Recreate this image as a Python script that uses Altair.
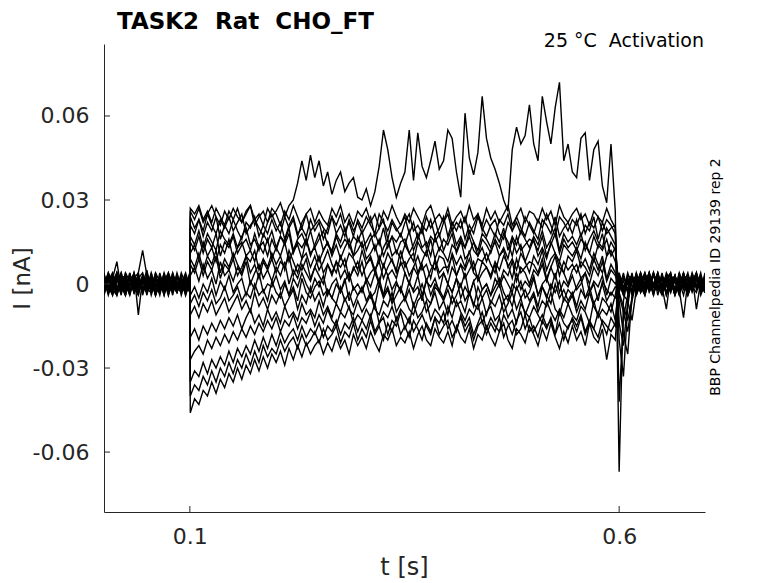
import altair as alt
import pandas as pd

# ---- sampling times (s) ----
t_pre = [round(0.005 * i, 4) for i in range(21)]              # 0.000 .. 0.100
t_pulse = [round(0.1005 + 0.005 * i, 4) for i in range(100)]  # 0.1005 .. 0.5955
t_post = [round(0.600 + 0.005 * i, 4) for i in range(21)]     # 0.600 .. 0.700
times = t_pre + t_pulse + t_post

# ---- currents, in pA (pre | pulse | post) ----
trace_B = [1,-3,4,-2,0,3,-4,2,-1,3,-2,1,-4,3,0,-2,4,-1,-3,2,0] + [
    26,23,27,22,25,28,24,21,26,23,
    27,24,22,26,28,23,25,21,27,24,
    26,29,24,28,30,36,44,37,46,38,
    44,35,40,32,37,40,33,36,38,31,
    30,34,28,33,42,55,48,38,31,36,
    40,55,37,54,42,38,44,51,41,44,
    55,52,40,31,61,45,39,47,67,52,
    45,41,36,30,26,48,56,50,53,64,
    50,44,67,58,50,63,72,44,50,40,
    38,52,54,37,48,51,35,29,50,26] + [
    -67,-6,2,-3,4,-1,3,-2,0,4,-3,1,-2,3,-4,2,0,-1,3,-2,1]

trace_01 = [-2,3,-1,4,-3,1,-2,0,3,-4,2,-1,3,-3,1,4,-2,0,-1,3,-2] + [
    27,25,28,23,26,22,27,24,21,26,
    23,27,22,25,28,21,24,26,22,27,
    25,21,26,23,28,24,20,25,27,22,
    26,23,21,27,24,28,22,25,21,26,
    24,27,22,25,20,26,23,28,24,21,
    25,22,27,24,21,26,28,23,25,22,
    27,21,24,26,22,28,23,25,21,27,
    23,26,22,25,28,21,24,27,22,26,
    25,22,27,23,26,21,28,24,22,25,
    27,23,25,21,26,24,22,27,23,20] + [
    -42,-12,-4,2,-3,1,4,-2,3,-1,-4,2,0,3,-3,1,-2,4,-1,2,0]

trace_13 = [1,-2,3,-4,2,0,-3,4,-1,2,-2,3,-4,1,0,3,-1,-3,2,-2,1] + [
    24,20,23,19,25,21,18,23,20,24,
    19,22,25,18,21,23,20,17,22,25,
    21,18,24,20,23,17,22,25,19,21,
    23,20,18,24,21,25,19,22,17,23,
    20,24,21,18,25,22,19,23,20,17,
    22,25,19,21,18,24,20,23,17,22,
    25,19,22,20,24,18,21,25,19,23,
    20,17,23,21,25,19,22,18,24,21,
    18,23,20,25,21,17,24,22,19,23,
    21,25,18,22,20,24,19,23,21,18] + [
    -14,-22,-6,2,-3,1,3,-2,4,-1,0,-3,2,-4,3,1,-2,0,4,-3,2]

trace_02 = [3,-1,2,8,-2,4,-3,1,-1,2,-4,3,0,-2,4,-1,2,-3,1,0,2] + [
    21,18,23,17,22,19,24,16,21,18,
    23,19,16,22,20,24,17,21,18,23,
    19,22,16,21,24,18,20,17,23,19,
    22,16,20,24,18,21,17,23,19,22,
    18,21,24,17,20,23,16,22,19,21,
    24,18,22,16,21,19,23,17,20,24,
    17,22,19,23,16,21,18,24,20,17,
    21,23,18,16,22,19,24,20,17,22,
    19,16,23,21,18,24,17,20,22,18,
    23,17,21,19,24,16,22,18,20,21] + [
    -20,-33,-8,3,-2,4,-1,2,-3,0,3,-4,1,-2,4,-1,2,-3,1,3,-1]

trace_03 = [-3,2,-4,1,3,-2,0,4,-11,2,-1,3,-3,1,-2,4,0,-3,2,-1,1] + [
    17,14,19,13,18,15,12,19,16,14,
    18,13,17,20,14,16,12,18,15,19,
    13,17,15,20,12,16,18,14,19,13,
    16,19,14,12,18,15,20,13,17,15,
    19,12,16,18,14,20,13,17,15,18,
    14,19,12,16,20,13,17,15,18,12,
    16,20,14,17,13,19,15,12,18,16,
    13,18,15,20,12,17,14,19,16,13,
    17,14,19,13,16,20,12,18,15,17,
    14,18,12,16,19,15,13,20,17,14] + [
    -6,-18,-25,-4,2,-3,1,-1,4,-2,0,3,-3,2,-1,4,-4,1,0,-2,3]

trace_14 = [-3,1,4,-2,0,-4,3,-1,2,-3,4,0,-2,1,-4,3,-1,2,0,-2,4] + [
    15,12,17,11,16,13,18,10,15,13,
    17,11,14,16,12,18,13,15,10,16,
    12,17,14,18,11,15,13,16,10,14,
    18,12,15,11,17,13,16,14,10,17,
    13,15,18,12,16,10,14,17,11,15,
    16,11,14,18,13,15,10,17,12,16,
    14,18,11,15,13,17,12,10,16,14,
    11,16,13,18,15,10,17,12,14,16,
    15,12,17,10,14,18,11,16,13,15,
    12,16,14,11,17,13,18,10,15,12] + [
    -4,-10,-17,-6,1,3,-2,4,-1,2,-3,0,4,-2,1,-4,3,-1,2,0,-3]

trace_04 = [0,4,-2,3,-1,-4,2,-3,4,12,3,-2,1,-4,3,0,-2,4,-1,-3,0] + [
    11,14,9,15,10,13,8,14,11,16,
    9,13,15,10,12,8,14,11,16,9,
    13,10,15,8,12,14,9,16,11,13,
    8,12,15,10,14,9,13,16,10,12,
    15,9,11,14,8,13,16,10,12,9,
    14,11,8,15,12,10,16,9,13,11,
    8,14,12,16,9,11,15,10,13,8,
    12,15,10,13,9,16,11,14,8,12,
    16,10,13,9,15,11,8,14,12,10,
    13,9,15,11,8,14,12,16,10,13] + [
    -3,-8,-13,-5,3,-2,4,0,-3,2,-1,-9,3,1,-2,4,-3,2,-1,0,2]

trace_05 = [2,-4,1,-2,4,-1,3,-3,0,2,-3,4,-1,2,-4,1,3,-2,0,4,-1] + [
    9,6,11,5,10,7,12,4,9,6,
    11,7,4,10,8,12,5,9,6,11,
    7,10,5,12,8,4,9,11,6,10,
    5,8,12,7,4,10,6,11,9,5,
    12,7,9,4,10,6,11,8,5,12,
    6,9,11,4,8,12,7,5,10,9,
    4,11,7,10,6,12,5,9,8,11,
    7,4,10,12,6,9,5,11,8,4,
    10,7,12,5,9,11,6,4,10,8,
    12,6,9,5,11,7,4,10,12,8] + [
    2,-4,-6,-13,-2,3,-1,4,-3,1,2,-4,0,3,-2,-12,1,-1,4,-3,0]

trace_15 = [2,-1,-4,3,1,-2,4,-3,0,2,-1,3,-4,2,1,-3,4,-2,0,3,-1] + [
    7,4,9,3,8,5,10,2,7,5,
    9,3,6,10,4,7,2,8,5,9,
    4,8,6,10,3,7,5,9,2,6,
    10,4,7,3,8,6,9,2,5,8,
    3,7,10,5,8,2,6,9,4,7,
    8,3,6,10,5,7,2,9,4,6,
    6,10,3,7,5,9,4,2,8,6,
    3,8,5,10,7,2,9,4,6,8,
    7,4,9,2,6,10,3,8,5,7,
    4,8,6,3,9,5,10,2,7,4] + [
    1,-3,2,-4,3,0,-2,4,-1,3,-3,1,2,-4,0,3,-2,1,4,-1,-3]

trace_06 = [-1,2,-3,4,0,-2,3,-1,-4,3,1,-2,4,-3,2,-1,0,3,-4,1,2] + [
    3,6,1,7,2,5,0,8,3,5,
    1,6,3,8,0,4,7,2,5,1,
    6,3,8,0,5,2,7,4,1,6,
    3,0,7,4,8,2,5,1,6,3,
    8,1,4,6,0,7,3,5,2,8,
    4,0,6,3,7,1,5,8,2,4,
    0,6,3,7,2,5,8,1,4,6,
    2,7,0,5,3,8,1,6,4,0,
    5,3,7,1,6,2,8,4,0,5,
    7,2,4,0,6,3,8,1,5,3] + [
    -1,3,-2,4,-4,1,2,-3,0,4,-1,3,-2,1,-4,2,3,-1,-3,2,1]

trace_07 = [4,-2,0,-3,2,3,-1,4,-2,0,5,-3,2,-1,3,-4,1,-2,4,0,-3] + [
    -4,-1,-5,0,-3,2,-4,1,-2,3,
    -3,0,2,-4,1,-2,4,-3,0,-1,
    3,-2,1,-4,2,-1,4,0,-3,2,
    -1,3,-4,0,2,-3,1,4,-2,0,
    -3,2,-1,4,0,-4,3,-2,1,-3,
    4,0,-2,3,-4,1,-1,2,-3,4,
    0,-3,2,-1,4,-4,1,3,-2,0,
    -4,2,-1,3,0,-3,4,-2,1,-1,
    3,-4,0,2,-2,4,-3,1,-1,3,
    -2,0,4,-3,1,-1,3,-4,2,0] + [
    3,-2,4,-1,2,-3,0,3,-4,2,-2,4,1,-3,0,2,-1,3,-9,1,-2]

trace_16 = [-1,3,-2,1,4,-3,0,2,-4,3,-1,1,-3,4,-2,0,3,-1,2,-4,1] + [
    -7,-4,-8,-3,-6,-2,-7,-5,-1,-6,
    -4,-1,-6,-3,-5,0,-4,-2,-6,1,
    -3,-5,0,-4,-1,-6,2,-3,-5,-1,
    1,-4,-2,-5,0,-3,2,-6,-1,-4,
    -2,1,-5,-3,2,-4,-1,-6,0,-2,
    -5,1,-3,-1,-6,2,-4,0,-2,-5,
    0,-3,2,-5,-1,-4,1,-6,-2,0,
    -4,-1,2,-3,-6,0,-2,1,-5,-3,
    2,-4,-1,-5,0,-3,1,-6,-2,-4,
    -1,2,-5,-3,0,-6,1,-2,-4,-1] + [
    -2,1,-3,3,-1,4,-4,2,0,-2,3,-1,1,-4,2,0,-3,4,-2,1,-1]

trace_08 = [-4,1,3,-1,-3,2,-2,0,3,-3,1,2,-4,0,-1,3,-3,2,1,-2,3] + [
    -11,-8,-12,-7,-10,-6,-11,-8,-5,-10,
    -7,-4,-9,-6,-10,-3,-8,-5,-9,-4,
    -7,-3,-8,-5,-2,-9,-4,-7,-1,-6,
    -3,-8,-2,-5,-7,-1,-6,-3,-8,-4,
    -1,-6,-3,-8,0,-5,-2,-7,-4,-1,
    -6,-2,-8,-4,0,-5,-7,-1,-3,-6,
    -2,-7,-4,0,-6,-3,-8,-1,-5,-2,
    -7,-3,0,-6,-4,-8,-1,-5,-2,-6,
    -3,-8,-1,-4,-7,0,-5,-2,-6,-3,
    -8,-2,-5,-1,-7,-4,0,-6,-3,-5] + [
    -2,4,-3,1,3,-1,-4,2,0,-2,4,-3,1,3,-1,0,-4,2,3,-2,4]

trace_09 = [2,0,-3,3,1,-4,4,-2,1,-1,-3,0,3,-2,4,-3,-1,1,-2,3,-1] + [
    -19,-16,-20,-15,-18,-14,-17,-13,-16,-12,
    -15,-11,-16,-12,-9,-14,-11,-15,-9,-13,
    -10,-14,-8,-12,-10,-13,-7,-11,-9,-12,
    -6,-11,-8,-12,-7,-10,-5,-9,-11,-6,
    -10,-7,-4,-9,-11,-6,-8,-3,-10,-7,
    -5,-9,-11,-6,-4,-10,-7,-3,-9,-6,
    -11,-4,-8,-6,-10,-3,-7,-9,-5,-11,
    -6,-8,-4,-10,-7,-3,-9,-5,-11,-7,
    -4,-10,-6,-8,-3,-9,-11,-5,-7,-4,
    -10,-6,-9,-3,-8,-11,-5,-7,-10,-4] + [
    4,-1,2,-3,0,4,-2,1,-4,3,-1,2,4,-3,1,-2,3,0,-1,4,-3]

trace_10 = [-2,4,1,-4,3,0,-3,2,4,-2,3,-4,1,2,-3,0,2,-1,3,-4,1] + [
    -27,-24,-22,-25,-20,-23,-19,-22,-18,-21,
    -17,-20,-16,-19,-15,-18,-14,-17,-13,-16,
    -12,-17,-13,-15,-11,-16,-12,-14,-10,-15,
    -11,-14,-9,-13,-15,-10,-12,-8,-14,-11,
    -13,-9,-12,-7,-14,-10,-12,-8,-13,-9,
    -11,-14,-7,-12,-10,-6,-13,-9,-11,-14,
    -8,-12,-6,-10,-13,-9,-11,-7,-14,-10,
    -8,-13,-11,-6,-12,-9,-14,-7,-10,-12,
    -8,-11,-14,-6,-10,-13,-9,-12,-7,-11,
    -13,-8,-10,-14,-6,-12,-9,-11,-7,-13] + [
    1,-3,3,2,-4,0,3,-2,4,-1,-3,1,2,-4,4,-1,0,-2,3,-3,2]

trace_11 = [3,-3,-1,2,-4,4,1,-3,2,4,-1,2,-2,-3,1,-4,3,0,-2,1,-3] + [
    -35,-31,-33,-28,-32,-27,-30,-26,-29,-24,
    -28,-23,-26,-22,-25,-20,-24,-19,-23,-18,
    -22,-17,-21,-18,-16,-20,-15,-19,-16,-18,
    -14,-19,-15,-17,-13,-18,-14,-16,-12,-17,
    -13,-16,-11,-17,-14,-12,-18,-13,-15,-10,
    -16,-12,-17,-14,-11,-15,-18,-12,-14,-10,
    -16,-13,-17,-11,-15,-12,-18,-14,-10,-16,
    -12,-15,-17,-11,-14,-18,-13,-10,-16,-12,
    -17,-14,-11,-15,-13,-18,-10,-14,-16,-12,
    -15,-11,-17,-13,-16,-10,-14,-18,-12,-15] + [
    -3,2,0,-2,4,-3,1,4,-1,-2,3,0,-3,2,-1,4,-2,1,3,-4,0]

trace_17 = [2,-3,1,4,-2,0,-4,3,-1,2,-2,-3,4,1,-1,3,-2,0,2,-3,1] + [
    -40,-36,-38,-33,-36,-31,-35,-30,-33,-28,
    -32,-27,-30,-25,-29,-24,-28,-22,-26,-23,
    -25,-20,-24,-21,-19,-23,-18,-22,-20,-17,
    -21,-16,-20,-18,-15,-21,-17,-19,-14,-20,
    -16,-19,-13,-18,-15,-20,-14,-17,-12,-18,
    -15,-19,-13,-16,-20,-14,-17,-12,-18,-15,
    -13,-19,-16,-12,-17,-14,-20,-15,-13,-18,
    -14,-17,-12,-19,-15,-13,-18,-16,-11,-17,
    -15,-19,-13,-16,-12,-18,-14,-20,-15,-13,
    -17,-12,-18,-14,-16,-19,-13,-15,-17,-14] + [
    3,-2,0,2,-3,1,-4,3,-1,4,-2,0,2,-3,1,3,-4,0,-1,2,-2]

trace_12 = [0,2,-2,-4,1,-3,2,3,-3,1,-2,4,-3,0,2,2,-4,3,0,-1,4] + [
    -46,-41,-43,-38,-40,-35,-39,-34,-37,-32,
    -35,-30,-34,-29,-32,-27,-31,-26,-30,-25,
    -28,-24,-29,-23,-27,-22,-26,-21,-25,-22,
    -20,-25,-21,-24,-19,-23,-20,-25,-18,-22,
    -19,-23,-17,-21,-24,-18,-20,-16,-22,-19,
    -21,-17,-23,-18,-15,-20,-22,-16,-19,-21,
    -17,-22,-15,-19,-21,-16,-23,-18,-20,-15,
    -19,-22,-17,-14,-20,-23,-16,-18,-21,-15,
    -18,-22,-16,-20,-14,-19,-23,-17,-21,-15,
    -20,-17,-22,-14,-19,-21,-16,-27,-18,-20] + [
    0,-4,1,3,-2,2,-3,0,4,-4,2,1,-1,3,-3,0,4,-2,1,2,-3]

traces = {
    "B": trace_B, "01": trace_01, "13": trace_13, "02": trace_02,
    "03": trace_03, "14": trace_14, "04": trace_04, "05": trace_05,
    "15": trace_15, "06": trace_06, "07": trace_07, "16": trace_16,
    "08": trace_08, "09": trace_09, "10": trace_10, "11": trace_11,
    "17": trace_17, "12": trace_12,
}

y_ticks = [-0.06, -0.03, 0.0, 0.03, 0.06]
x_ticks = [0.1, 0.6]

rows = []
for name, vals in traces.items():
    assert len(vals) == len(times), (name, len(vals))
    for i, (t, v) in enumerate(zip(times, vals)):
        rows.append({"t": t, "I": v / 1000.0, "trace": name, "idx": i})
df = pd.DataFrame(rows)

FONT = "DejaVu Sans"
AX = "#262626"
xscale = alt.Scale(domain=[0.0, 0.7], nice=False, zero=False)
yscale = alt.Scale(domain=[-0.0814, 0.0857], nice=False, zero=False)

xaxis = alt.Axis(
    values=x_ticks, format=".1f", title="t [s]", ticks=False, grid=False,
    domainColor=AX, domainWidth=1, labelColor=AX, labelFont=FONT,
    labelFontSize=22, labelPadding=14, titleFont=FONT, titleFontSize=24,
    titleFontWeight="normal", titleColor=AX, titleX=300, titleY=62,
    titleBaseline="alphabetic")
yaxis = alt.Axis(
    values=y_ticks, title="I [nA]", ticks=False, grid=False,
    domainColor=AX, domainWidth=1, labelColor=AX, labelFont=FONT,
    labelFontSize=22, labelPadding=15,
    labelExpr="datum.value == 0 ? '0' : (datum.value < 0 ? '-' + format(-datum.value, '.2f') : format(datum.value, '.2f'))",
    titleFont=FONT, titleFontSize=23, titleFontWeight="normal", titleColor=AX,
    titleX=-75, titleY=234, titleAngle=270, titleBaseline="alphabetic",
    titleAlign="center")

lines = alt.Chart(df).mark_line(color="black", strokeWidth=1.4, clip=True).encode(
    x=alt.X("t:Q", scale=xscale, axis=xaxis),
    y=alt.Y("I:Q", scale=yscale, axis=yaxis),
    detail="trace:N",
    order="idx:Q",
)

ytick_layer = alt.Chart(pd.DataFrame({"I": y_ticks})).mark_rule(
    color=AX, strokeWidth=1).encode(
    y=alt.Y("I:Q", scale=yscale, axis=yaxis), x=alt.value(0), x2=alt.value(6))

xtick_layer = alt.Chart(pd.DataFrame({"t": x_ticks})).mark_rule(
    color=AX, strokeWidth=1).encode(
    x=alt.X("t:Q", scale=xscale, axis=xaxis), y=alt.value(468), y2=alt.value(462))

title_layer = alt.Chart(pd.DataFrame({"s": ["TASK2\u00a0 Rat\u00a0 CHO_FT"]})).mark_text(
    font=FONT, fontSize=23, fontWeight="bold", color="black", align="left",
    baseline="alphabetic").encode(text="s:N", x=alt.value(13), y=alt.value(-15))

sub_layer = alt.Chart(pd.DataFrame({"s": ["25 \u00b0C\u00a0 Activation"]})).mark_text(
    font=FONT, fontSize=19, color="black", align="right",
    baseline="alphabetic").encode(text="s:N", x=alt.value(600), y=alt.value(3))

side_layer = alt.Chart(pd.DataFrame({"s": ["BBP Channelpedia ID 29139 rep 2"]})).mark_text(
    font=FONT, fontSize=14, color="black", align="center", baseline="middle",
    angle=270).encode(text="s:N", x=alt.value(612), y=alt.value(233))

chart = alt.layer(lines, ytick_layer, xtick_layer, title_layer, sub_layer, side_layer).properties(
    width=601, height=468,
    padding={"left": 96, "top": 36, "right": 60, "bottom": 70},
    autosize=alt.AutoSizeParams(type="none"),
    background="white",
).configure_view(stroke=None)

chart.save("out.html", embed_options={"renderer": "svg", "actions": False})
